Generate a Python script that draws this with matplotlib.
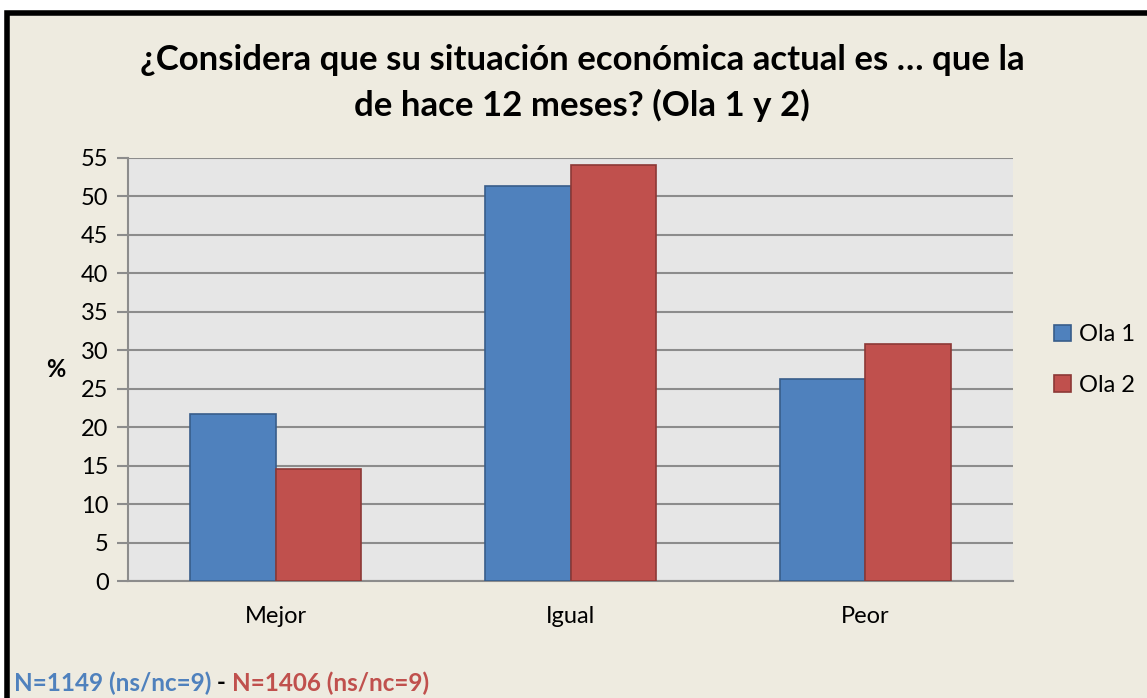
import numpy as np
import matplotlib.pyplot as plt
from matplotlib.patches import Rectangle

categories = ['Mejor', 'Igual', 'Peor']
ola1 = [21.7, 51.4, 26.3]
ola2 = [14.6, 54.1, 30.8]
series_names = ['Ola 1', 'Ola 2']
yticks = list(range(0, 56, 5))

BLUE, BLUE_EDGE = '#4F81BD', '#385D8A'
RED, RED_EDGE = '#C0504D', '#8C3836'
BG = '#EEEBE0'

plt.rcParams['font.family'] = ['Lato', 'DejaVu Sans']

W, H = 1147, 698
fig = plt.figure(figsize=(W / 100, H / 100), dpi=100, facecolor='white')

# chart frame: black border on left/top, beige fill
fig.patches.append(Rectangle((7 / W, -0.2), 1.2, 1.2 - 13 / H, transform=fig.transFigure,
                             facecolor=BG, edgecolor='black', linewidth=4, zorder=-5))

ax = fig.add_axes([128 / W, 1 - 581 / H, (1013 - 128) / W, (581 - 158) / H], zorder=2)
ax.set_facecolor('#E6E6E6')

x = np.arange(len(categories))
bw = 0.289
ax.bar(x - bw / 2, ola1, bw, color=BLUE, edgecolor=BLUE_EDGE, linewidth=1.2, label=series_names[0], zorder=3)
ax.bar(x + bw / 2, ola2, bw, color=RED, edgecolor=RED_EDGE, linewidth=1.2, label=series_names[1], zorder=3)

ax.set_xlim(-0.5, 2.5)
ax.set_ylim(0, 55)
ax.set_yticks(yticks)
ax.set_xticks(x)
ax.set_xticklabels(categories)
ax.yaxis.grid(True, color='#8C8C8C', linewidth=1.5, zorder=1)
ax.set_axisbelow(True)
for s in ['top', 'right']:
    ax.spines[s].set_visible(False)
for s in ['left', 'bottom']:
    ax.spines[s].set_color('#8C8C8C')
    ax.spines[s].set_linewidth(1.5)
ax.tick_params(axis='y', length=8, width=1.5, color='#8C8C8C', labelsize=17, pad=6)
ax.tick_params(axis='x', length=0, labelsize=17, pad=18)

ax.set_ylabel('%', rotation=0, fontsize=17, fontweight='bold', labelpad=18, va='center')

fig.text(582 / W, 1 - 60 / H, '¿Considera que su situación económica actual es … que la',
         ha='center', va='center', fontsize=25, fontweight='bold')
fig.text(582 / W, 1 - 105 / H, 'de hace 12 meses? (Ola 1 y 2)',
         ha='center', va='center', fontsize=25, fontweight='bold')

leg = fig.legend(loc='center left', bbox_to_anchor=(1054 / W, 1 - 360 / H), frameon=False,
                 fontsize=17, handlelength=0.7, handleheight=0.7, handletextpad=0.35,
                 labelspacing=1.25, borderaxespad=0, borderpad=0)

# footer
t1 = fig.text(14 / W, 1 - 683 / H, 'N=1149 (ns/nc=9)', color=BLUE, fontsize=17.5,
              fontweight='bold', va='center')
fig.canvas.draw()
bb = t1.get_window_extent()
t2 = fig.text(bb.x1 / W, 1 - 683 / H, ' - ', color='black', fontsize=17.5, fontweight='bold', va='center')
fig.canvas.draw()
bb = t2.get_window_extent()
fig.text(bb.x1 / W, 1 - 683 / H, 'N=1406 (ns/nc=9)', color=RED, fontsize=17.5,
         fontweight='bold', va='center')

fig.savefig('out.png', dpi=100, facecolor='white')
